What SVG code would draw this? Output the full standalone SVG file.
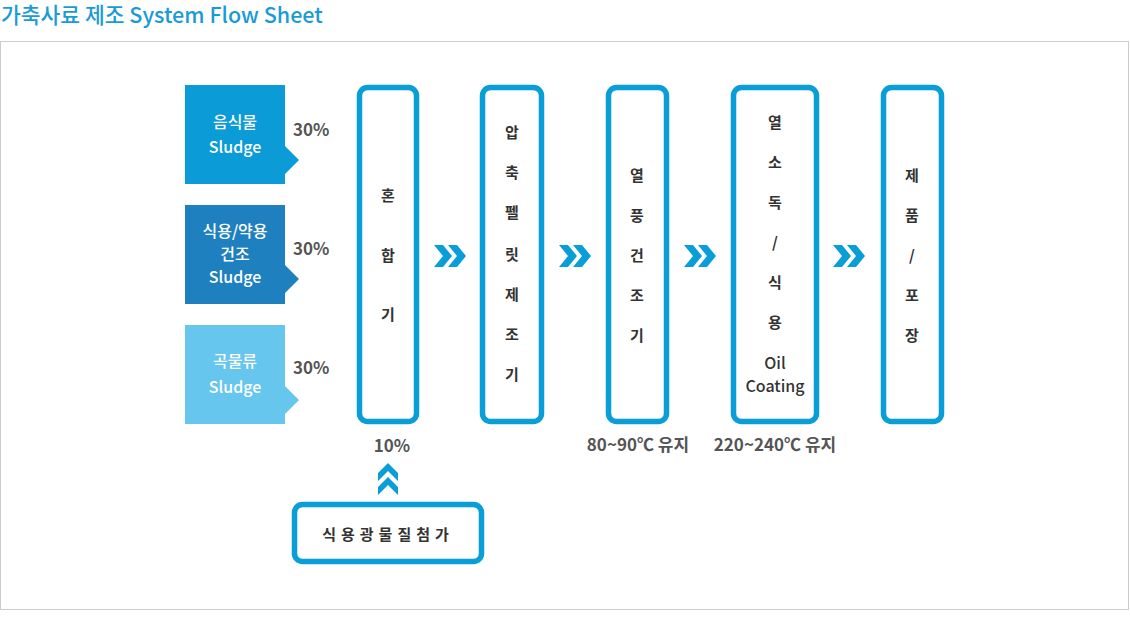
<svg xmlns="http://www.w3.org/2000/svg" width="1130" height="634" viewBox="0 0 1130 634">
<style>
.t{font-family:"Noto Sans CJK KR","Noto Sans",sans-serif}
.title{font-size:21.5px;font-weight:500;fill:#1a9bd7}
.w{font-size:16px;font-weight:500;fill:#fff;text-anchor:middle}
.p{font-size:17px;font-weight:700;fill:#555}
.v{font-size:15px;font-weight:700;fill:#333;text-anchor:middle}
.e{font-size:16px;font-weight:500;fill:#333;text-anchor:middle}
.box{fill:#fff;stroke:#0a9ed9;stroke-width:5.5}
.chev{fill:#0a9ed9}
</style>
<defs>
<g id="dchev">
<polygon points="0,0 9,0 18,11 9,22 0,22 9,11"/>
<polygon points="14,0 23,0 32,11 23,22 14,22 23,11"/>
</g>
<g id="uchev">
<polygon points="0,10 10,0 20,10 20,18 10,8 0,18"/>
</g>
</defs>
<rect x="0.5" y="41.5" width="1128" height="568" fill="#fff" stroke="#ccc"/>
<text class="t title" x="1" y="23">가축사료 제조 System Flow Sheet</text>

<g id="src1">
<path d="M185,85 H285 V146 L299,160 L285,174 V184 H185 Z" fill="#0b9bd6"/>
<text class="t w" x="235" y="128">음식물</text>
<text class="t w" x="235" y="153">Sludge</text>
<text class="t p" x="293" y="136">30%</text>
</g>
<g id="src2">
<path d="M185,205 H285 V265 L299,279 L285,293 V304 H185 Z" fill="#1f80c0"/>
<text class="t w" x="235" y="237">식용/약용</text>
<text class="t w" x="235" y="260">건조</text>
<text class="t w" x="235" y="283">Sludge</text>
<text class="t p" x="293" y="255">30%</text>
</g>
<g id="src3">
<path d="M185,325 H285 V386 L299,400 L285,414 V424 H185 Z" fill="#66c6ee"/>
<text class="t w" x="235" y="367">곡물류</text>
<text class="t w" x="235" y="393">Sludge</text>
<text class="t p" x="293" y="374">30%</text>
</g>

<g id="mixer">
<rect class="box" x="359.5" y="87.5" width="57" height="334" rx="8"/>
<text class="t v" x="388" y="201">혼</text>
<text class="t v" x="388" y="261">합</text>
<text class="t v" x="388" y="320">기</text>
<text class="t p" x="392" y="452" text-anchor="middle">10%</text>
</g>
<g id="pellet">
<rect class="box" x="482.5" y="87.5" width="59" height="334" rx="8"/>
<text class="t v" x="512" y="138">압</text>
<text class="t v" x="512" y="178">축</text>
<text class="t v" x="512" y="218">펠</text>
<text class="t v" x="512" y="260">릿</text>
<text class="t v" x="512" y="300">제</text>
<text class="t v" x="512" y="340">조</text>
<text class="t v" x="512" y="380">기</text>
</g>
<g id="dryer">
<rect class="box" x="608.5" y="87.5" width="58" height="334" rx="8"/>
<text class="t v" x="637" y="181">열</text>
<text class="t v" x="637" y="221">풍</text>
<text class="t v" x="637" y="261">건</text>
<text class="t v" x="637" y="301">조</text>
<text class="t v" x="637" y="341">기</text>
<text class="t p" x="638" y="451" text-anchor="middle">80~90℃ 유지</text>
</g>
<g id="sterilize">
<rect class="box" x="733.5" y="87.5" width="83" height="334" rx="8"/>
<text class="t v" x="775" y="128">열</text>
<text class="t v" x="775" y="168">소</text>
<text class="t v" x="775" y="208">독</text>
<text class="t v" x="775" y="248">/</text>
<text class="t v" x="775" y="288">식</text>
<text class="t v" x="775" y="328">용</text>
<text class="t e" x="775" y="369">Oil</text>
<text class="t e" x="775" y="392">Coating</text>
<text class="t p" x="775" y="451" text-anchor="middle">220~240℃ 유지</text>
</g>
<g id="product">
<rect class="box" x="883.5" y="87.5" width="58" height="334" rx="8"/>
<text class="t v" x="912" y="181">제</text>
<text class="t v" x="912" y="221">품</text>
<text class="t v" x="912" y="261">/</text>
<text class="t v" x="912" y="301">포</text>
<text class="t v" x="912" y="341">장</text>
</g>
<g id="additive">
<rect class="box" x="294.5" y="504.5" width="187" height="57" rx="8"/>
<text class="t v" x="388" y="540" letter-spacing="5">식용광물질첨가</text>
</g>

<g id="connectors" class="chev">
<use href="#dchev" x="434" y="245"/>
<use href="#dchev" x="559" y="245"/>
<use href="#dchev" x="684" y="245"/>
<use href="#dchev" x="833" y="245"/>
<use href="#uchev" x="378" y="463"/>
<use href="#uchev" x="378" y="477"/>
</g>
</svg>
